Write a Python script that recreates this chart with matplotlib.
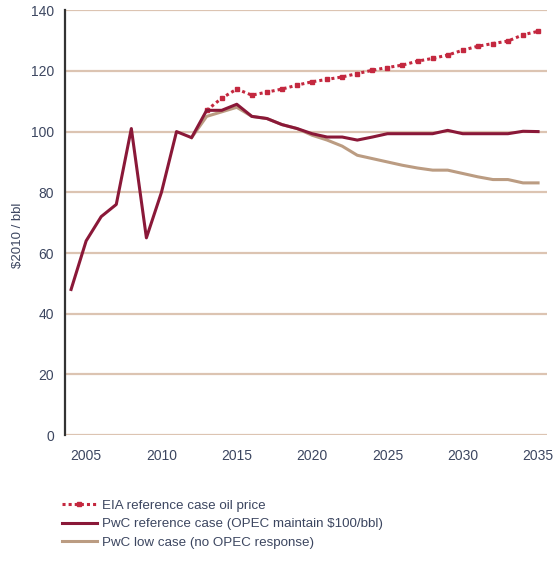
import matplotlib
matplotlib.use("Agg")
import matplotlib.pyplot as plt

plt.rcParams['font.family'] = ['Liberation Sans', 'DejaVu Sans']

hist_years = [2004, 2005, 2006, 2007, 2008, 2009, 2010, 2011, 2012]
hist_vals = [48, 64, 72, 76, 101, 65, 80, 100, 98]

proj_years = list(range(2013, 2036))
eia_vals = [107, 111, 114, 112, 113, 114, 115.3, 116.4, 117.2, 118.0, 119.1, 120.2,
            121.1, 121.9, 123.2, 124.1, 125.2, 126.8, 128.1, 129.0, 129.8, 131.9, 133]
pwc_ref_vals = [107, 107, 109, 105, 104.3, 102.3, 101, 99.3, 98.2, 98.2, 97.2, 98.2,
                99.3, 99.3, 99.3, 99.3, 100.4, 99.3, 99.3, 99.3, 99.3, 100.1, 100]
pwc_low_vals = [105, 106.5, 108, 105, 104.3, 102.3, 101, 98.8, 97.2, 95.2, 92.2, 91.1,
                90.0, 88.9, 88.0, 87.3, 87.3, 86.2, 85.1, 84.2, 84.2, 83.1, 83.1]

labels = ["EIA reference case oil price",
          "PwC reference case (OPEC maintain $100/bbl)",
          "PwC low case (no OPEC response)"]
xticks = [2005, 2010, 2015, 2020, 2025, 2030, 2035]
yticks = [0, 20, 40, 60, 80, 100, 120, 140]

c_eia = '#c4283f'
c_ref = '#8a1838'
c_low = '#bb9c82'
c_grid = '#dcc4b2'
c_text = '#3c4660'

fig = plt.figure(figsize=(5.56, 5.63), dpi=100)
ax = fig.add_axes([0.117, 0.227, 0.867, 0.755])

ax.plot(hist_years[-1:] + proj_years, hist_vals[-1:] + pwc_low_vals, color=c_low, lw=2.2,
        label=labels[2], zorder=3, solid_joinstyle='round')
ax.plot(proj_years, eia_vals, color=c_eia, lw=2.2,
        ls=(0, (1, 1)), marker='s', ms=3.2, label=labels[0], zorder=4)
ax.plot(hist_years + proj_years, hist_vals + pwc_ref_vals, color=c_ref, lw=2.2,
        label=labels[1], zorder=5, solid_joinstyle='round')

ax.set_xlim(2003.6, 2035.6)
ax.set_ylim(0, 140)
ax.set_xticks(xticks)
ax.set_yticks(yticks)
ax.yaxis.grid(True, color=c_grid, lw=1.6)
ax.set_axisbelow(True)
for s in ['top', 'right', 'bottom']:
    ax.spines[s].set_visible(False)
ax.spines['left'].set_color('#333333')
ax.spines['left'].set_linewidth(1.6)
ax.tick_params(axis='both', length=0, labelsize=10, colors=c_text)
ax.tick_params(axis='x', pad=10)
ax.tick_params(axis='y', pad=8)
ax.set_ylabel("$2010 / bbl", fontsize=9.5, color=c_text)
ax.yaxis.set_label_coords(-0.085, 0.47)

handles, labs = ax.get_legend_handles_labels()
order = [1, 2, 0]
leg = fig.legend([handles[i] for i in order], [labs[i] for i in order],
                 loc='upper left', bbox_to_anchor=(0.102, 0.122), frameon=False,
                 fontsize=9.6, handlelength=2.6, labelspacing=0.45, handletextpad=0.4,
                 borderaxespad=0)
for t in leg.get_texts():
    t.set_color(c_text)

fig.savefig("out.png", dpi=100)
